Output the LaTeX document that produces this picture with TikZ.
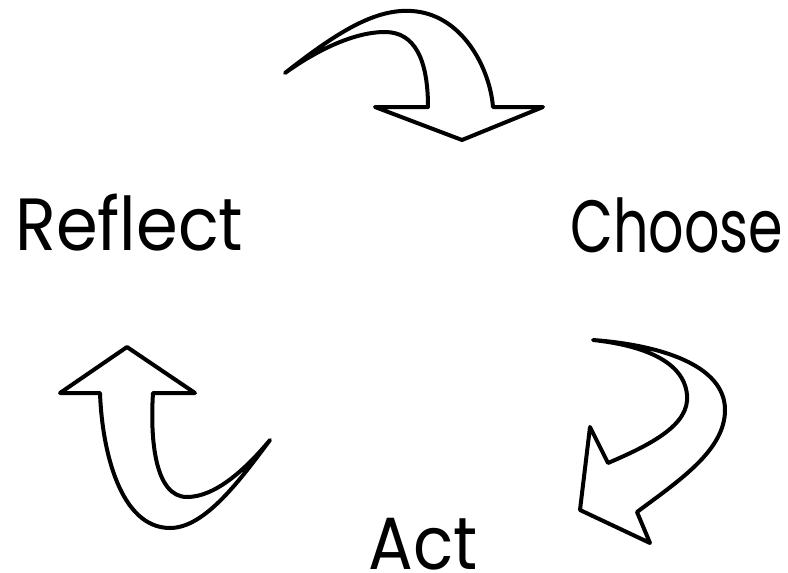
\documentclass[tikz,border=0pt]{standalone}
\usepackage{fontspec}
\setmainfont{Poppins}
\usepackage{tikz}
\usetikzlibrary{positioning}

\tikzset{
  bend arrow/.style={draw=black,line width=2pt,line join=round,fill=white},
  step label/.style={font=\fontsize{37}{40}\selectfont,inner sep=0pt,anchor=base west}
}
% squeeze a word to a given width, keeping its height
\newcommand{\fitword}[2]{\resizebox{#1}{\height}{#2}}

\begin{document}
\begin{tikzpicture}[x=0.5pt,y=-0.5pt]
\useasboundingbox (0,0) rectangle (788,573);
% the three steps
\node[step label] (reflect) at (15,250) {\fitword{114pt}{Reflect}};
\node[step label] (choose) at (570,252) {\fitword{106.5pt}{Choose}};
\node[step label] (act) at (368,569) {\fitword{54.5pt}{Act}};
% reflect -> choose
\draw[bend arrow] (285,73) .. controls (340,30) and (380,5) .. (420,12)
  .. controls (465,20) and (490,70) .. (493,107)
  -- (543,107) -- (462,140) -- (375,107) -- (428,107)
  .. controls (428,60) and (415,32) .. (385,32)
  .. controls (350,32) and (310,55) .. cycle;
% choose -> act
\draw[bend arrow] (593,340) .. controls (660,345) and (725,365) .. (725,410)
  .. controls (725,450) and (680,480) .. (637,512)
  -- (650,543) -- (580,510) -- (590,427) -- (608,463)
  .. controls (650,445) and (690,425) .. (687,395)
  .. controls (684,360) and (640,345) .. cycle;
% act -> reflect
\draw[bend arrow] (270,440) .. controls (240,480) and (205,528) .. (170,528)
  .. controls (120,528) and (102,450) .. (100,393)
  -- (60,393) -- (127,347) -- (195,393) -- (153,393)
  .. controls (150,440) and (155,497) .. (187,497)
  .. controls (215,497) and (245,470) .. cycle;
\end{tikzpicture}
\end{document}
